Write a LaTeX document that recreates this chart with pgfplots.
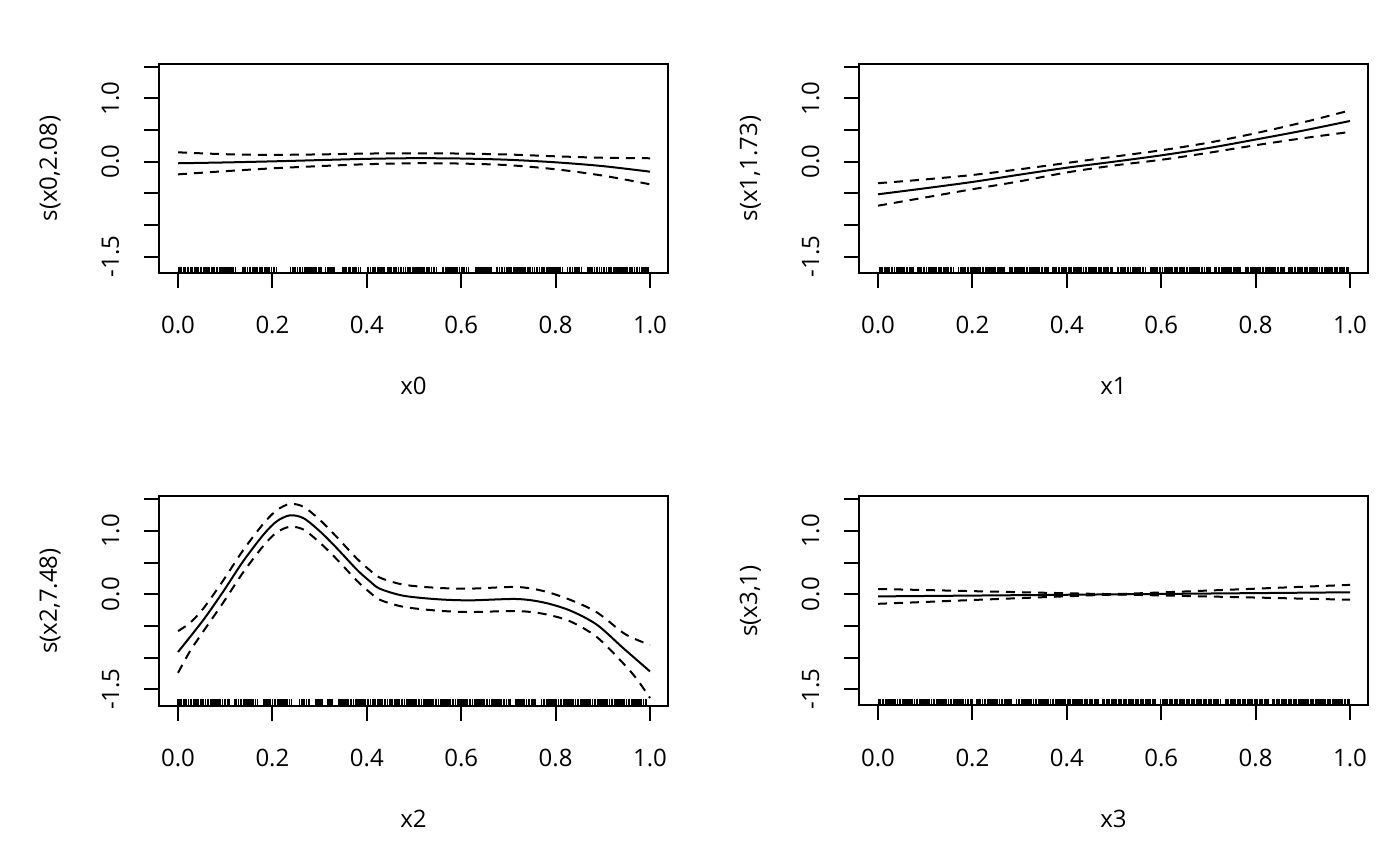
\documentclass[border=0pt]{standalone}
\usepackage{fontspec}
\setmainfont{Open Sans}
\usepackage{pgfplots}
\usepackage{pgfplotstable}
\pgfplotsset{compat=1.18}

\pgfplotstableread[row sep=\\]{x\\0.001\\0.004\\0.007\\0.011\\0.013\\0.016\\0.020\\0.022\\0.026\\0.029\\0.031\\0.035\\0.038\\0.041\\0.044\\0.047\\0.050\\0.054\\0.057\\0.061\\0.064\\0.066\\0.071\\0.074\\0.077\\0.081\\0.084\\0.088\\0.091\\0.093\\0.097\\0.101\\0.104\\0.108\\0.112\\0.115\\0.118\\0.122\\0.137\\0.140\\0.143\\0.147\\0.151\\0.154\\0.158\\0.161\\0.165\\0.168\\0.172\\0.176\\0.179\\0.183\\0.186\\0.191\\0.194\\0.198\\0.202\\0.205\\0.209\\0.238\\0.242\\0.246\\0.249\\0.253\\0.257\\0.260\\0.264\\0.268\\0.271\\0.275\\0.279\\0.282\\0.286\\0.290\\0.293\\0.297\\0.301\\0.304\\0.313\\0.317\\0.320\\0.324\\0.328\\0.331\\0.349\\0.352\\0.356\\0.362\\0.366\\0.371\\0.375\\0.378\\0.382\\0.386\\0.401\\0.404\\0.408\\0.412\\0.415\\0.419\\0.423\\0.426\\0.430\\0.434\\0.437\\0.445\\0.449\\0.452\\0.456\\0.460\\0.463\\0.467\\0.471\\0.474\\0.478\\0.482\\0.486\\0.489\\0.493\\0.497\\0.500\\0.504\\0.508\\0.511\\0.515\\0.519\\0.522\\0.526\\0.530\\0.533\\0.537\\0.541\\0.544\\0.548\\0.560\\0.563\\0.567\\0.570\\0.574\\0.578\\0.581\\0.585\\0.589\\0.592\\0.596\\0.600\\0.604\\0.607\\0.611\\0.615\\0.630\\0.633\\0.637\\0.640\\0.644\\0.648\\0.651\\0.655\\0.659\\0.663\\0.675\\0.677\\0.681\\0.685\\0.688\\0.692\\0.696\\0.699\\0.703\\0.707\\0.711\\0.714\\0.718\\0.722\\0.725\\0.729\\0.733\\0.736\\0.740\\0.744\\0.747\\0.751\\0.755\\0.759\\0.762\\0.766\\0.770\\0.773\\0.777\\0.781\\0.784\\0.788\\0.792\\0.795\\0.799\\0.803\\0.807\\0.810\\0.814\\0.825\\0.829\\0.832\\0.836\\0.840\\0.843\\0.847\\0.851\\0.855\\0.868\\0.871\\0.875\\0.878\\0.882\\0.886\\0.889\\0.893\\0.897\\0.901\\0.904\\0.908\\0.912\\0.915\\0.919\\0.923\\0.926\\0.930\\0.934\\0.937\\0.941\\0.945\\0.949\\0.952\\0.956\\0.960\\0.963\\0.967\\0.971\\0.974\\0.978\\0.982\\0.985\\0.989\\0.993\\0.996\\}\rugA

\pgfplotstableread[row sep=\\]{x\\0.003\\0.006\\0.010\\0.014\\0.017\\0.021\\0.024\\0.028\\0.031\\0.035\\0.039\\0.042\\0.046\\0.049\\0.053\\0.056\\0.060\\0.063\\0.067\\0.070\\0.074\\0.085\\0.089\\0.092\\0.096\\0.099\\0.103\\0.107\\0.110\\0.114\\0.117\\0.121\\0.124\\0.128\\0.131\\0.135\\0.139\\0.142\\0.146\\0.149\\0.153\\0.156\\0.160\\0.171\\0.175\\0.178\\0.182\\0.185\\0.189\\0.192\\0.196\\0.199\\0.203\\0.207\\0.210\\0.214\\0.217\\0.221\\0.224\\0.228\\0.231\\0.235\\0.239\\0.242\\0.246\\0.249\\0.253\\0.256\\0.260\\0.263\\0.267\\0.278\\0.282\\0.285\\0.289\\0.292\\0.296\\0.299\\0.303\\0.307\\0.310\\0.314\\0.317\\0.321\\0.324\\0.328\\0.331\\0.335\\0.339\\0.342\\0.346\\0.349\\0.353\\0.356\\0.360\\0.371\\0.375\\0.378\\0.382\\0.385\\0.389\\0.392\\0.396\\0.399\\0.403\\0.407\\0.410\\0.414\\0.417\\0.421\\0.424\\0.428\\0.431\\0.435\\0.439\\0.442\\0.446\\0.449\\0.453\\0.456\\0.460\\0.463\\0.467\\0.470\\0.474\\0.478\\0.481\\0.485\\0.488\\0.492\\0.496\\0.507\\0.510\\0.514\\0.517\\0.521\\0.524\\0.528\\0.531\\0.535\\0.539\\0.542\\0.546\\0.549\\0.553\\0.556\\0.560\\0.563\\0.567\\0.578\\0.582\\0.585\\0.589\\0.592\\0.596\\0.599\\0.603\\0.607\\0.610\\0.614\\0.617\\0.621\\0.624\\0.628\\0.631\\0.635\\0.639\\0.642\\0.646\\0.649\\0.653\\0.656\\0.660\\0.663\\0.667\\0.670\\0.674\\0.678\\0.681\\0.685\\0.688\\0.692\\0.696\\0.699\\0.703\\0.714\\0.717\\0.721\\0.724\\0.728\\0.731\\0.735\\0.739\\0.742\\0.746\\0.749\\0.753\\0.756\\0.760\\0.763\\0.767\\0.778\\0.782\\0.785\\0.789\\0.792\\0.796\\0.799\\0.803\\0.807\\0.810\\0.814\\0.817\\0.821\\0.824\\0.828\\0.831\\0.835\\0.839\\0.842\\0.846\\0.849\\0.853\\0.856\\0.860\\0.871\\0.875\\0.878\\0.882\\0.885\\0.889\\0.892\\0.896\\0.899\\0.903\\0.907\\0.910\\0.914\\0.917\\0.921\\0.924\\0.928\\0.931\\0.935\\0.939\\0.942\\0.946\\0.949\\0.953\\0.956\\0.960\\0.963\\0.967\\0.970\\0.974\\0.978\\0.981\\0.985\\0.988\\0.992\\0.996\\}\rugB

\pgfplotstableread[row sep=\\]{x\\0.000\\0.004\\0.008\\0.011\\0.015\\0.018\\0.022\\0.026\\0.029\\0.033\\0.036\\0.040\\0.044\\0.047\\0.051\\0.054\\0.058\\0.062\\0.065\\0.069\\0.072\\0.076\\0.080\\0.083\\0.087\\0.090\\0.094\\0.098\\0.101\\0.105\\0.108\\0.121\\0.124\\0.128\\0.132\\0.135\\0.139\\0.142\\0.146\\0.150\\0.153\\0.157\\0.160\\0.164\\0.168\\0.182\\0.186\\0.189\\0.193\\0.196\\0.200\\0.204\\0.207\\0.211\\0.214\\0.218\\0.222\\0.225\\0.229\\0.232\\0.236\\0.240\\0.258\\0.261\\0.265\\0.268\\0.272\\0.276\\0.279\\0.292\\0.296\\0.299\\0.303\\0.306\\0.318\\0.322\\0.326\\0.340\\0.343\\0.347\\0.350\\0.354\\0.358\\0.361\\0.365\\0.368\\0.372\\0.376\\0.379\\0.383\\0.386\\0.390\\0.394\\0.397\\0.401\\0.404\\0.408\\0.412\\0.415\\0.419\\0.422\\0.426\\0.430\\0.433\\0.437\\0.440\\0.444\\0.448\\0.451\\0.455\\0.458\\0.462\\0.466\\0.469\\0.473\\0.476\\0.480\\0.484\\0.487\\0.491\\0.494\\0.498\\0.502\\0.505\\0.509\\0.512\\0.516\\0.520\\0.523\\0.527\\0.530\\0.534\\0.538\\0.541\\0.545\\0.548\\0.552\\0.556\\0.559\\0.563\\0.566\\0.570\\0.574\\0.577\\0.581\\0.584\\0.588\\0.592\\0.595\\0.599\\0.602\\0.606\\0.610\\0.613\\0.617\\0.620\\0.624\\0.628\\0.631\\0.635\\0.638\\0.642\\0.646\\0.649\\0.653\\0.656\\0.660\\0.664\\0.667\\0.671\\0.674\\0.678\\0.682\\0.685\\0.689\\0.692\\0.696\\0.700\\0.703\\0.716\\0.720\\0.724\\0.727\\0.731\\0.734\\0.738\\0.742\\0.745\\0.749\\0.752\\0.756\\0.770\\0.774\\0.777\\0.781\\0.784\\0.788\\0.792\\0.795\\0.799\\0.802\\0.806\\0.810\\0.813\\0.817\\0.820\\0.824\\0.828\\0.831\\0.835\\0.838\\0.842\\0.846\\0.849\\0.853\\0.856\\0.860\\0.864\\0.867\\0.871\\0.874\\0.878\\0.882\\0.885\\0.889\\0.892\\0.896\\0.900\\0.903\\0.907\\0.910\\0.914\\0.918\\0.921\\0.925\\0.928\\0.932\\0.936\\0.939\\0.943\\0.946\\0.950\\0.954\\0.957\\0.961\\0.964\\0.968\\0.972\\0.975\\0.979\\0.982\\0.986\\0.990\\0.993\\}\rugC

\pgfplotstableread[row sep=\\]{x\\0.002\\0.005\\0.009\\0.012\\0.016\\0.019\\0.023\\0.027\\0.030\\0.034\\0.037\\0.041\\0.045\\0.048\\0.052\\0.055\\0.059\\0.063\\0.066\\0.070\\0.073\\0.077\\0.081\\0.084\\0.088\\0.091\\0.095\\0.099\\0.102\\0.106\\0.109\\0.113\\0.117\\0.120\\0.124\\0.127\\0.131\\0.135\\0.138\\0.142\\0.145\\0.149\\0.153\\0.156\\0.160\\0.163\\0.167\\0.171\\0.174\\0.178\\0.181\\0.185\\0.189\\0.192\\0.196\\0.199\\0.210\\0.214\\0.217\\0.221\\0.225\\0.228\\0.232\\0.235\\0.239\\0.243\\0.246\\0.250\\0.253\\0.257\\0.261\\0.264\\0.268\\0.271\\0.275\\0.279\\0.282\\0.293\\0.297\\0.300\\0.304\\0.307\\0.311\\0.315\\0.318\\0.322\\0.325\\0.329\\0.333\\0.336\\0.340\\0.343\\0.347\\0.351\\0.354\\0.358\\0.361\\0.365\\0.369\\0.372\\0.376\\0.379\\0.383\\0.387\\0.390\\0.394\\0.397\\0.401\\0.405\\0.408\\0.412\\0.415\\0.419\\0.423\\0.426\\0.430\\0.433\\0.437\\0.441\\0.444\\0.448\\0.451\\0.455\\0.459\\0.462\\0.466\\0.477\\0.480\\0.484\\0.487\\0.491\\0.495\\0.498\\0.502\\0.505\\0.509\\0.513\\0.516\\0.520\\0.523\\0.527\\0.531\\0.534\\0.538\\0.541\\0.545\\0.549\\0.552\\0.556\\0.559\\0.563\\0.567\\0.570\\0.574\\0.577\\0.581\\0.585\\0.588\\0.599\\0.603\\0.606\\0.610\\0.613\\0.617\\0.621\\0.624\\0.628\\0.631\\0.635\\0.639\\0.642\\0.646\\0.649\\0.653\\0.657\\0.660\\0.664\\0.667\\0.671\\0.675\\0.678\\0.682\\0.685\\0.689\\0.693\\0.696\\0.700\\0.703\\0.707\\0.711\\0.714\\0.718\\0.721\\0.725\\0.736\\0.739\\0.743\\0.747\\0.750\\0.754\\0.757\\0.761\\0.765\\0.768\\0.772\\0.775\\0.779\\0.783\\0.786\\0.790\\0.793\\0.797\\0.801\\0.804\\0.808\\0.811\\0.815\\0.819\\0.822\\0.826\\0.837\\0.840\\0.844\\0.847\\0.851\\0.855\\0.858\\0.862\\0.865\\0.869\\0.873\\0.876\\0.880\\0.883\\0.887\\0.891\\0.894\\0.898\\0.901\\0.905\\0.909\\0.912\\0.916\\0.919\\0.923\\0.927\\0.930\\0.934\\0.937\\0.941\\0.945\\0.948\\0.952\\0.955\\0.959\\0.963\\0.966\\0.970\\0.973\\0.977\\0.981\\0.984\\0.988\\0.991\\0.995\\0.998\\}\rugD

\tikzset{lab/.style={font=\fontsize{12pt}{14pt}\selectfont, inner sep=0pt, text=black}}

\pgfplotsset{
  gamstyle/.style={
    scale only axis, width=254.5pt, height=104.5pt,
    xmin=-0.0403, xmax=1.0381, ymin=-1.758, ymax=1.543,
    xtick={0,0.2,0.4,0.6,0.8,1}, ytick={-1.5,-1,-0.5,0,0.5,1,1.5},
    xticklabels={}, yticklabels={},
    tick align=outside, xtick pos=left, ytick pos=left,
    major tick length=7.5pt,
    every tick/.style={black, line width=1pt},
    axis line style={black, line width=1pt},
    clip=false, anchor=south west,
  },
  fit/.style={black, line width=1pt, smooth, tension=0.5, no marks},
  ci/.style={black, line width=1pt, smooth, tension=0.5, no marks, dash pattern=on 4.5pt off 3.5pt},
  rug/.style={black, only marks, mark=|, mark size=1.575pt, mark options={line width=0.7pt}},
}

\newcommand\gamlabels[2]{%
  \pgfplotsinvokeforeach{0.0,0.2,0.4,0.6,0.8,1.0}{\node[lab,anchor=base] at ([yshift=-30.5pt]axis cs:##1,-1.758) {##1};}
  \node[lab,rotate=90,anchor=base] at ([xshift=-20pt]axis cs:-0.0403,1.0) {1.0};
  \node[lab,rotate=90,anchor=base] at ([xshift=-20pt]axis cs:-0.0403,0.0) {0.0};
  \node[lab,rotate=90,anchor=base] at ([xshift=-20pt]axis cs:-0.0403,-1.5) {-1.5};
  \node[lab,rotate=90,anchor=base] at ([xshift=-51pt]axis cs:-0.0403,-0.1075) {#1};
  \node[lab,anchor=base] at ([yshift=-61pt]axis cs:0.4989,-1.758) {#2};
}

\begin{document}
\begin{tikzpicture}
\path[use as bounding box] (0,0) rectangle (700pt,433pt);

% panel 1: x0
\begin{axis}[gamstyle, at={(79.5pt,296.5pt)}]
\addplot[fit] coordinates {(0,-0.025) (0.1,-0.012) (0.2,0.005) (0.3,0.025) (0.4,0.045) (0.5,0.055) (0.6,0.05) (0.7,0.03) (0.8,-0.01) (0.9,-0.07) (1.0,-0.158)};
\addplot[ci] coordinates {(0,0.148) (0.1,0.118) (0.2,0.108) (0.3,0.115) (0.4,0.128) (0.5,0.133) (0.6,0.128) (0.7,0.113) (0.8,0.085) (0.9,0.062) (1.0,0.054)};
\addplot[ci] coordinates {(0,-0.2) (0.1,-0.15) (0.2,-0.105) (0.3,-0.07) (0.4,-0.04) (0.5,-0.025) (0.6,-0.03) (0.7,-0.055) (0.8,-0.12) (0.9,-0.22) (1.0,-0.357)};
\addplot[rug] table[x index=0, y index=0, y expr=-1.708] {\rugA};
\gamlabels{s(x0,2.08)}{x0}
\end{axis}

% panel 2: x1
\begin{axis}[gamstyle, at={(429.5pt,296.5pt)}]
\addplot[fit] coordinates {(0,-0.515) (0.1,-0.42) (0.2,-0.32) (0.3,-0.205) (0.4,-0.095) (0.5,0.0) (0.6,0.1) (0.7,0.215) (0.8,0.35) (0.9,0.49) (1.0,0.643)};
\addplot[ci] coordinates {(0,-0.34) (0.1,-0.28) (0.2,-0.21) (0.3,-0.12) (0.4,-0.02) (0.5,0.08) (0.6,0.18) (0.7,0.3) (0.8,0.45) (0.9,0.62) (1.0,0.81)};
\addplot[ci] coordinates {(0,-0.695) (0.1,-0.565) (0.2,-0.435) (0.3,-0.31) (0.4,-0.17) (0.5,-0.06) (0.6,0.03) (0.7,0.14) (0.8,0.26) (0.9,0.37) (1.0,0.47)};
\addplot[rug] table[x index=0, y index=0, y expr=-1.708] {\rugB};
\gamlabels{s(x1,1.73)}{x1}
\end{axis}

% panel 3: x2
\begin{axis}[gamstyle, at={(79.5pt,80.25pt)}]
\addplot[fit] coordinates {(0,-0.913) (0.054,-0.403) (0.096,0.045) (0.138,0.52) (0.181,0.94) (0.209,1.15) (0.237,1.245) (0.266,1.20) (0.301,0.99) (0.336,0.73) (0.379,0.387) (0.407,0.2) (0.428,0.085) (0.478,-0.025) (0.55,-0.08) (0.619,-0.097) (0.717,-0.076) (0.774,-0.13) (0.83,-0.256) (0.887,-0.48) (0.943,-0.85) (1.0,-1.22)};
\addplot[ci] coordinates {(0,-0.583) (0.025,-0.455) (0.054,-0.223) (0.096,0.22) (0.138,0.695) (0.181,1.115) (0.209,1.325) (0.237,1.425) (0.266,1.38) (0.301,1.17) (0.336,0.905) (0.379,0.562) (0.407,0.375) (0.428,0.26) (0.478,0.15) (0.55,0.1) (0.619,0.088) (0.717,0.114) (0.774,0.05) (0.83,-0.086) (0.887,-0.285) (0.943,-0.61) (0.972,-0.72) (1.0,-0.8)};
\addplot[ci] coordinates {(0,-1.243) (0.025,-0.905) (0.054,-0.583) (0.096,-0.13) (0.138,0.345) (0.181,0.765) (0.209,0.975) (0.237,1.065) (0.266,1.02) (0.301,0.81) (0.336,0.555) (0.379,0.212) (0.407,0.025) (0.428,-0.09) (0.478,-0.2) (0.55,-0.26) (0.619,-0.282) (0.717,-0.266) (0.774,-0.31) (0.83,-0.426) (0.887,-0.675) (0.943,-1.09) (0.972,-1.34) (1.0,-1.64)};
\addplot[rug] table[x index=0, y index=0, y expr=-1.708] {\rugC};
\gamlabels{s(x2,7.48)}{x2}
\end{axis}

% panel 4: x3
\begin{axis}[gamstyle, at={(429.5pt,80.25pt)}]
\addplot[fit] coordinates {(0,-0.035) (0.5,-0.0025) (1.0,0.030)};
\addplot[ci] coordinates {(0,0.082) (0.1,0.0655) (0.2,0.048) (0.3,0.0315) (0.4,0.015) (0.5,0.0025) (0.6,0.028) (0.7,0.0575) (0.8,0.087) (0.9,0.1175) (1.0,0.147)};
\addplot[ci] coordinates {(0,-0.152) (0.1,-0.1225) (0.2,-0.092) (0.3,-0.0625) (0.4,-0.033) (0.5,-0.0075) (0.6,-0.02) (0.7,-0.0365) (0.8,-0.053) (0.9,-0.0705) (1.0,-0.087)};
\addplot[rug] table[x index=0, y index=0, y expr=-1.708] {\rugD};
\gamlabels{s(x3,1)}{x3}
\end{axis}
\end{tikzpicture}
\end{document}
